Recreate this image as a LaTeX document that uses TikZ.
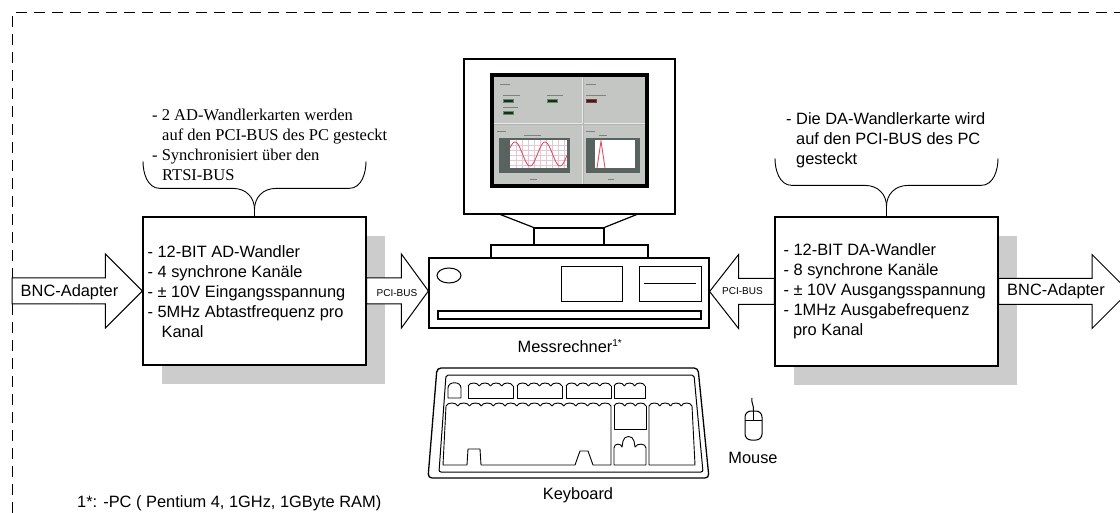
\documentclass[tikz,border=0pt]{standalone}
\usepackage{fontspec}
\setmainfont{Liberation Serif}
\setsansfont{Liberation Sans}
\usetikzlibrary{calc,shadows}

\definecolor{scrbg}{RGB}{196,198,196}
\definecolor{plotframe}{RGB}{88,98,94}
\definecolor{plotgrid}{RGB}{226,200,208}
\definecolor{curve}{RGB}{222,80,104}
\definecolor{leddark}{RGB}{30,42,34}
\definecolor{ledgreen}{RGB}{90,140,95}
\definecolor{ledred}{RGB}{150,50,55}

\tikzset{
  sanstext/.style={font=\sffamily\fontsize{16.4}{20}\selectfont, align=left, inner sep=0pt},
  seriftext/.style={font=\rmfamily\fontsize{16.5}{20}\selectfont, align=left, inner sep=0pt},
  smalllabel/.style={font=\sffamily\fontsize{10}{12}\selectfont, inner sep=0pt},
  cardbox/.style={draw, line width=1.2pt, fill=white, minimum width=223pt,
    minimum height=148pt, inner sep=0pt,
    drop shadow={fill=black!20, opacity=1, shadow xshift=19pt, shadow yshift=-19pt}},
  outline/.style={draw, line width=1.2pt, fill=white},
  keyline/.style={draw, line width=0.9pt, line join=round},
  bracestyle/.style={draw, line width=0.9pt},
  blockarrow/.style={draw, line width=1pt, fill=white, line join=miter},
  % block arrow from start to target, #1 = head length
  barrow/.style={to path={
    let \p1=(\tikztostart), \p2=(\tikztotarget),
        \n1={ifthenelse(\x2>\x1,1,-1)} in
    (\x1,\y1+13pt) -- ({\x2-\n1*#1pt},\y1+13pt) -- ({\x2-\n1*#1pt},\y1+37pt)
    -- (\x2,\y1) -- ({\x2-\n1*#1pt},\y1-37pt) -- ({\x2-\n1*#1pt},\y1-13pt)
    -- (\x1,\y1-13pt) -- cycle}},
  pics/curlybrace/.style={code={
    \draw[bracestyle] (0,0) -- (0,-#1);
    \draw[bracestyle] (0,-#1) .. controls +(0,-12) and +(13,0) .. ++(-21.5,-21)
      -- ++(-73,0) .. controls +(-13,0) and +(0,11) .. ++(-17,-27);
    \draw[bracestyle] (0,-#1) .. controls +(0,-12) and +(-13,0) .. ++(21.5,-21)
      -- ++(73,0) .. controls +(13,0) and +(0,11) .. ++(17,-27);
  }}
}

% function-key style group: humped top edge, #1 left, #2 right, #3 top, #4 bottom, #5 humps
\newcommand\keygroup[5]{%
  \pgfmathsetmacro\kw{(#2-#1)/#5}%
  \draw[keyline] (#1,#3+3) -- (#1,#4) -- (#2,#4) -- (#2,#3+3);
  \foreach \i in {1,...,#5}{%
    \draw[keyline] ({#1+(\i-1)*\kw},#3+3) .. controls ({#1+(\i-1)*\kw+0.12*\kw},#3-1)
      and ({#1+\i*\kw-0.12*\kw},#3-1) .. ({#1+\i*\kw},#3+3);
  }%
}
% humps only (for blocks with individual outlines)
\newcommand\humps[4]{%
  \pgfmathsetmacro\kw{(#2-#1)/#4}%
  \foreach \i in {1,...,#4}{%
    \draw[keyline] ({#1+(\i-1)*\kw},#3+3) .. controls ({#1+(\i-1)*\kw+0.12*\kw},#3-1)
      and ({#1+\i*\kw-0.12*\kw},#3-1) .. ({#1+\i*\kw},#3+3);
  }%
}

\begin{document}
\begin{tikzpicture}[x=1pt,y=-1pt]
\useasboundingbox (0,0) rectangle (1120,513);
\clip (0,0) rectangle (1120,513);

% dashed system frame
\coordinate (frameBL) at (12,513);
\coordinate (frameTL) at (12,13);
\coordinate (frameTR) at (1120,13);
\draw[line width=1pt, dash pattern=on 11pt off 7pt] (frameBL) -- (frameTL) -- (frameTR);

% converter cards
\node[cardbox] (ad) at (254.5,291) {};
\node[cardbox, minimum height=149pt] (da) at (886.5,291.5) {};

% measuring computer
\node[outline, minimum width=211pt, minimum height=155pt] (monitor) at (569.5,136.5) {};
\node[outline, minimum width=280pt, minimum height=70pt] (pc) at (569,293) {};
\node[outline, minimum width=157pt, minimum height=13pt] (base) at (569.5,251.5) {};
\node[outline, minimum width=70pt, minimum height=17pt] (neck) at (569,236.5) {};
\draw[line width=1.2pt] (499,214) -- (neck.north west);
\draw[line width=1.2pt] (638,214) -- (neck.north east);
% front panel of the case
\draw[line width=1pt] (449,275.5) ellipse [x radius=12, y radius=7.5];
\draw[line width=1pt] (561,267) rectangle (622,302);
\draw[line width=1pt] (639,267) rectangle (701,302);
\draw[line width=1pt] (644,284) -- (696,284);
\draw[line width=1.2pt] (438,311) rectangle (701,319);

% screen content
\fill[black] (490,73) rectangle (649,188);
\fill[scrbg] (494,77) rectangle (645,184);
\draw[white!60!scrbg, line width=0.8pt] (582,77) -- (582,184);
\draw[white!60!scrbg, line width=0.8pt] (494,123) -- (645,123);
\draw[black!30, line width=0.4pt] (583,77) -- (583,184);
\draw[black!30, line width=0.4pt] (494,124) -- (645,124);
\begin{scope}[black!50, line width=0.7pt]
  \draw (500,84) -- (510,84);
  \draw (503,95) -- (520,95);
  \draw (547,95) -- (563,95);
  \draw (503,107) -- (518,107);
  \draw (586,84) -- (596,84);
  \draw (586,95) -- (606,95);
  \draw (497,131) -- (506,131);
  \draw (586,131) -- (595,131);
  \draw (524,135) -- (541,135);
  \draw (599,135) -- (607,135);
  \draw (530,179) -- (537,179);
  \draw (608,179) -- (614,179);
\end{scope}
\filldraw[draw=ledgreen, fill=leddark, line width=0.6pt] (503,99) rectangle (513,102);
\filldraw[draw=ledgreen, fill=leddark, line width=0.6pt] (547,99) rectangle (557,102);
\filldraw[draw=ledgreen, fill=leddark, line width=0.6pt] (503,111) rectangle (513,114);
\filldraw[draw=ledred, fill=leddark, line width=0.6pt] (586,99) rectangle (596,102);
% left plot: two periods of a sine
\fill[plotframe] (499,138) rectangle (570,173);
\fill[white] (510,140) rectangle (567,168);
\foreach \gx in {516,522,...,564} \draw[plotgrid, line width=0.4pt] (\gx,140) -- (\gx,168);
\foreach \gy in {145,150,...,165} \draw[plotgrid, line width=0.4pt] (510,\gy) -- (567,\gy);
\draw[curve, line width=0.9pt, domain=510:567, samples=90] plot (\x, {154-12*cos(12*(\x-515))});
% right plot: single pulse
\fill[plotframe] (586,138) rectangle (640,173);
\fill[white] (595,140) rectangle (635,168);
\draw[curve, line width=0.9pt] (597,168) -- (601,141) -- (605,168);

% keyboard
\draw[line width=1.3pt, rounded corners=4pt] (437,368) -- (698,368) -- (709,478) -- (428,478) -- cycle;
\draw[line width=1pt, rounded corners=2pt] (446,375) -- (694,375) -- (703,472) -- (439,472) -- cycle;
\draw[keyline] (448,398) -- (448,388) .. controls (448,381) and (461,381) .. (461,388) -- (461,398) -- cycle;
\keygroup{468}{513}{383}{398}{4}
\keygroup{517}{562}{383}{398}{4}
\keygroup{566}{611}{383}{398}{4}
\keygroup{614}{645}{383}{398}{3}
% main key block with space-bar notches
\draw[keyline] (446,406) -- (443,465) -- (467,465) -- (468,449) -- (480,449) -- (481,465)
  -- (575,465) -- (580,451) -- (588,451) -- (593,465) -- (611,465) -- (611,406);
\humps{446}{611}{403}{14}
% navigation keys
\keygroup{614}{646}{403}{429}{3}
\draw[keyline] (614,465) -- (614,448) .. controls (614,443) and (621,443) .. (622,447)
  -- (623,441) .. controls (624,435) and (633,435) .. (634,441) -- (635,447)
  .. controls (637,443) and (646,443) .. (646,448) -- (646,465) -- cycle;
% numeric keypad
\draw[keyline] (649,406) -- (649,465) -- (695,465) -- (692,406);
\humps{649}{692}{403}{4}

% mouse
\draw[line width=1pt, rounded corners=6pt] (745,411) rectangle (762,440);
\draw[line width=0.9pt] (745,420) -- (762,420);
\draw[line width=0.9pt] (753.5,411) -- (753.5,420);
\draw[line width=1pt] (753.5,411) .. controls (754,405) and (751,403) .. (752,398);

% block arrows between frame, cards and computer
\coordinate (edgeL) at (12,291);
\coordinate (edgeR) at (1129,291.5);
\path[blockarrow] (edgeL) to[barrow=37] (ad.west);
\path[blockarrow] (ad.east) to[barrow=27] (pc.west |- ad.east);
\path[blockarrow] (da.west) to[barrow=29] (pc.east |- da.west);
\path[blockarrow] (da.east) to[barrow=37] (edgeR);
\node[sanstext] (bncin) at (69.5,292) {BNC-Adapter};
\node[sanstext] (bncout) at (1056,291.5) {BNC-Adapter};
\node[smalllabel] (pciin) at (397,293) {PCI-BUS};
\node[smalllabel] (pciout) at (742.5,291.5) {PCI-BUS};

% card descriptions
\node[sanstext, anchor=west] (adtext) at ($(ad.west)+(5,1)$)
  {- 12-BIT AD-Wandler\\- 4 synchrone Kanäle\\- ± 10V Eingangsspannung\\- 5MHz Abtastfrequenz pro\\\hspace*{14pt}Kanal};
\node[sanstext, anchor=west] (datext) at ($(da.west)+(9,0)$)
  {- 12-BIT DA-Wandler\\- 8 synchrone Kanäle\\- ± 10V Ausgangsspannung\\- 1MHz Ausgabefrequenz\\\hspace*{9.5pt}pro Kanal};

% braces with notes
\pic at (ad.north) {curlybrace=7};
\pic at (da.north) {curlybrace=10};
\node[seriftext, anchor=west] (adnote) at (152,145)
  {- 2 AD-Wandlerkarten werden\\\hspace*{10pt}auf den PCI-BUS des PC gesteckt\\- Synchronisiert über den\\\hspace*{10pt}RTSI-BUS};
\node[sanstext, anchor=west] (danote) at (786,140)
  {- Die DA-Wandlerkarte wird\\\hspace*{10pt}auf den PCI-BUS des PC\\\hspace*{10pt}gesteckt};

% captions
\node[sanstext] (pclabel) at (570,346) {Messrechner\textsuperscript{\fontsize{10}{10}\selectfont 1*}};
\node[sanstext] (kblabel) at (578,495) {Keyboard};
\node[sanstext] (mouselabel) at (753,458) {Mouse};
\node[sanstext, anchor=west] (footnote) at (77,503) {1*: -PC ( Pentium 4, 1GHz, 1GByte RAM)};
\end{tikzpicture}
\end{document}
